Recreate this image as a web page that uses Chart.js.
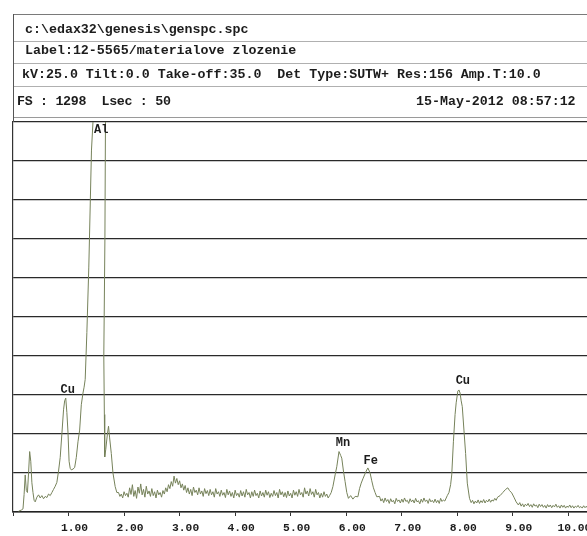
<!DOCTYPE html>
<html>
<head>
<meta charset="utf-8">
<script src="https://cdn.jsdelivr.net/npm/chart.js@4/dist/chart.umd.min.js"></script>
<style>
  html, body { margin:0; padding:0; background:#ffffff; width:587px; height:536px; overflow:hidden; }
  #wrap { position:absolute; left:0; top:0; width:640px; height:536px; }
  canvas { position:absolute; left:0; top:0; }
  .t { position:absolute; font-family:"Liberation Mono","DejaVu Sans Mono",monospace; font-weight:bold; font-size:13.3px; color:#1c1c1c; white-space:pre; line-height:14px; }
  .hl { position:absolute; left:13px; width:620px; height:0; }
</style>
</head>
<body>
<div id="wrap">
  <canvas id="c" width="640" height="536"></canvas>
  <div class="hl" style="top:14px;border-top:1px solid #7a7a7a;"></div>
  <div class="hl" style="top:41px;border-top:1px solid #b0b0b0;"></div>
  <div class="hl" style="top:63px;border-top:1px solid #b0b0b0;"></div>
  <div class="hl" style="top:86px;border-top:1px solid #b0b0b0;"></div>
  <div class="hl" style="top:117px;border-top:1px solid #9a9a9a;"></div>
  <div style="position:absolute;left:13px;top:14px;width:0;height:108px;border-left:1px solid #555;"></div>
  <div class="t" style="left:25px;top:23px;">c:\edax32\genesis\genspc.spc</div>
  <div class="t" style="left:25px;top:44px;">Label:12-5565/materialove zlozenie</div>
  <div class="t" style="left:22px;top:68px;">kV:25.0 Tilt:0.0 Take-off:35.0  Det Type:SUTW+ Res:156 Amp.T:10.0</div>
  <div class="t" style="left:17px;top:95px;letter-spacing:-0.3px;">FS : 1298  Lsec : 50</div>
  <div class="t" style="left:416px;top:95px;">15-May-2012 08:57:12</div>
</div>
<script>
// Energy (keV) and intensity (in full-scale divisions, 10 = FS 1298)
const energy = [
  0.10,0.15,0.18,0.20,0.22,0.24,0.26,0.28,0.30,0.32,0.34,0.36,0.38,0.40,0.43,0.46,0.49,0.52,0.55,0.58,
  0.61,0.64,0.67,0.70,0.73,0.76,0.79,0.82,0.85,0.88,0.91,0.93,0.95,0.97,0.99,1.01,1.03,1.05,1.08,1.11,
  1.14,1.17,1.20,1.23,1.26,1.28,1.30,1.33,1.365,1.413,1.44,1.48,1.52,1.56,1.60,1.64,1.665,1.655,1.635,1.645,
  1.651,1.67,1.70,1.72,1.74,1.77,1.80,1.84,1.87,
  1.900,1.925,1.950,1.975,2.000,2.025,2.050,2.075,
  2.100,2.125,2.150,2.175,2.200,2.225,2.250,2.275,
  2.300,2.325,2.350,2.375,2.400,2.425,2.450,2.475,
  2.500,2.525,2.550,2.575,2.600,2.625,2.650,2.675,
  2.700,2.725,2.750,2.775,2.800,2.825,2.850,2.875,
  2.900,2.925,2.950,2.975,3.000,3.025,3.050,3.075,
  3.100,3.125,3.150,3.175,3.200,3.225,3.250,3.275,
  3.300,3.325,3.350,3.375,3.400,3.425,3.450,3.475,
  3.500,3.525,3.550,3.575,3.600,3.625,3.650,3.675,
  3.700,3.725,3.750,3.775,3.800,3.825,3.850,3.875,
  3.900,3.925,3.950,3.975,4.000,4.025,4.050,4.075,
  4.100,4.125,4.150,4.175,4.200,4.225,4.250,4.275,
  4.300,4.325,4.350,4.375,4.400,4.425,4.450,4.475,
  4.500,4.525,4.550,4.575,4.600,4.625,4.650,4.675,
  4.700,4.725,4.750,4.775,4.800,4.825,4.850,4.875,
  4.900,4.925,4.950,4.975,5.000,5.025,5.050,5.075,
  5.100,5.125,5.150,5.175,5.200,5.225,5.250,5.275,
  5.300,5.325,5.350,5.375,5.400,5.425,5.450,5.475,
  5.500,5.525,5.550,5.575,5.600,5.625,5.650,5.675,
  5.70,5.73,5.76,5.80,
  5.83,5.87,5.90,5.92,5.95,5.98,6.01,6.04,6.08,6.12,6.16,6.21,6.24,6.27,6.30,6.33,6.36,6.39,6.43,6.46,
  6.49,6.52,6.55,
  6.600,6.625,6.650,6.675,6.700,6.725,6.750,6.775,
  6.800,6.825,6.850,6.875,6.900,6.925,6.950,6.975,
  7.000,7.025,7.050,7.075,7.100,7.125,7.150,7.175,
  7.200,7.225,7.250,7.275,7.300,7.325,7.350,7.375,
  7.400,7.425,7.450,7.475,7.500,7.525,7.550,7.575,
  7.600,7.625,7.650,7.675,7.700,7.725,7.750,7.775,
  7.82,7.85,7.88,7.90,7.93,7.96,7.98,8.01,8.03,8.05,8.07,8.09,
  8.12,8.15,8.18,8.22,
  8.250,8.275,8.300,8.325,8.350,8.375,8.400,8.425,
  8.450,8.475,8.500,8.525,8.550,8.575,8.600,8.625,
  8.650,8.675,8.700,8.725,
  8.77,8.82,8.87,8.91,8.94,8.98,9.02,9.06,
  9.100,9.125,9.150,9.175,9.200,9.225,9.250,9.275,
  9.300,9.325,9.350,9.375,9.400,9.425,9.450,9.475,
  9.500,9.525,9.550,9.575,9.600,9.625,9.650,9.675,
  9.700,9.725,9.750,9.775,9.800,9.825,9.850,9.875,
  9.900,9.925,9.950,9.975,10.000,10.025,10.050,10.075,
  10.100,10.125,10.150,10.175,10.200,10.225,10.250,10.275,
  10.300,10.325,10.350,10.375,10.400,10.425,10.450,10.475,
  10.50
];
const counts = [
  0.02,0.05,0.08,0.45,0.95,0.55,0.50,1.00,1.55,1.30,0.75,0.50,0.30,0.26,0.38,0.44,0.36,0.42,0.34,0.40,
  0.37,0.46,0.42,0.50,0.58,0.66,0.76,1.05,1.40,2.00,2.62,2.85,2.92,2.55,2.05,1.30,1.12,1.08,1.10,1.14,
  1.40,1.80,2.10,2.75,3.05,3.20,3.40,4.60,6.28,9.28,10.0,14.0,17.0,18.0,16.0,12.0,10.0,7.00,4.00,2.50,
  1.41,1.60,2.00,2.20,1.90,1.50,1.00,0.65,0.50,
  0.50,0.40,0.46,0.36,0.52,0.42,0.48,0.38,
  0.62,0.45,0.70,0.40,0.55,0.35,0.64,0.48,
  0.72,0.44,0.58,0.38,0.66,0.46,0.54,0.40,
  0.60,0.42,0.52,0.36,0.56,0.44,0.50,0.38,
  0.55,0.46,0.62,0.52,0.70,0.60,0.78,0.66,
  0.92,0.74,0.86,0.70,0.80,0.62,0.72,0.56,
  0.68,0.50,0.62,0.46,0.58,0.42,0.64,0.50,
  0.56,0.44,0.62,0.46,0.54,0.40,0.60,0.47,
  0.55,0.42,0.58,0.44,0.52,0.38,0.60,0.46,
  0.52,0.40,0.56,0.43,0.50,0.37,0.58,0.44,
  0.54,0.40,0.50,0.36,0.56,0.42,0.48,0.38,
  0.55,0.41,0.52,0.38,0.58,0.44,0.50,0.36,
  0.52,0.40,0.56,0.42,0.48,0.36,0.54,0.41,
  0.50,0.38,0.56,0.43,0.52,0.37,0.48,0.40,
  0.55,0.42,0.50,0.36,0.58,0.44,0.52,0.39,
  0.50,0.37,0.54,0.41,0.48,0.36,0.56,0.43,
  0.52,0.40,0.58,0.44,0.50,0.38,0.62,0.46,
  0.54,0.41,0.60,0.45,0.52,0.38,0.58,0.44,
  0.50,0.36,0.48,0.38,0.52,0.40,0.46,0.36,
  0.42,0.50,0.65,0.95,
  1.16,1.55,1.45,1.38,1.05,0.78,0.50,0.35,0.42,0.33,0.40,0.39,0.60,0.74,0.85,0.95,1.05,1.13,1.00,0.80,
  0.62,0.50,0.39,
  0.40,0.28,0.34,0.24,0.36,0.27,0.32,0.22,
  0.34,0.26,0.30,0.21,0.35,0.27,0.31,0.23,
  0.33,0.25,0.36,0.27,0.30,0.22,0.34,0.26,
  0.31,0.23,0.35,0.26,0.29,0.21,0.33,0.25,
  0.36,0.27,0.31,0.22,0.34,0.26,0.30,0.24,
  0.33,0.24,0.30,0.22,0.35,0.27,0.31,0.28,
  0.42,0.50,0.70,0.95,1.80,2.50,2.80,3.10,3.13,3.05,2.85,2.70,
  2.10,1.50,0.74,0.35,
  0.24,0.30,0.21,0.28,0.23,0.31,0.22,0.29,
  0.24,0.32,0.23,0.30,0.26,0.33,0.25,0.31,
  0.28,0.35,0.30,0.38,
  0.42,0.50,0.58,0.62,0.55,0.49,0.38,0.26,
  0.18,0.24,0.15,0.21,0.13,0.20,0.16,0.22,
  0.14,0.19,0.12,0.21,0.15,0.18,0.11,0.20,
  0.14,0.19,0.12,0.17,0.10,0.19,0.13,0.18,
  0.11,0.17,0.13,0.20,0.12,0.16,0.10,0.18,
  0.12,0.17,0.10,0.15,0.12,0.18,0.11,0.16,
  0.10,0.15,0.12,0.17,0.11,0.14,0.10,0.16,
  0.11,0.15,0.09,0.14,0.12,0.16,0.10,0.13,
  0.12
];
// Peak labels
const peakNames  = ["Al", "Cu", "Mn", "Fe", "Cu"];
const peakEnergy = [1.59, 0.984, 5.94, 6.44, 8.10];
const peakLevel  = [9.80, 3.12, 1.77, 1.31, 3.36];
// Axis
const xTickValues = [1,2,3,4,5,6,7,8,9,10];

const points = energy.map((e, i) => ({ x: e, y: counts[i] }));

const peakLabelPlugin = {
  id: 'peakLabels',
  afterDatasetsDraw(chart) {
    const ctx = chart.ctx;
    const xs = chart.scales.x, ys = chart.scales.y;
    ctx.save();
    ctx.font = 'bold 12px "Liberation Mono", monospace';
    ctx.fillStyle = '#1c1c1c';
    ctx.textAlign = 'center';
    ctx.textBaseline = 'middle';
    peakNames.forEach((n, i) => {
      ctx.fillText(n, xs.getPixelForValue(peakEnergy[i]), ys.getPixelForValue(peakLevel[i]));
    });
    ctx.restore();
  }
};

new Chart(document.getElementById('c'), {
  type: 'line',
  data: {
    datasets: [{
      data: points,
      borderColor: '#76825a',
      borderWidth: 1,
      pointRadius: 0,
      tension: 0,
      fill: false
    }]
  },
  options: {
    responsive: false,
    animation: false,
    devicePixelRatio: 1,
    layout: { padding: { top: 122, left: 13, right: 3, bottom: 0 } },
    plugins: { legend: { display: false }, tooltip: { enabled: false } },
    scales: {
      x: {
        type: 'linear',
        min: 0,
        max: 11.2,
        afterFit: (s) => { s.height = 24; },
        border: { display: true, color: '#222', width: 1.5 },
        grid: { drawOnChartArea: false, drawTicks: true, tickLength: 4, color: '#333', lineWidth: 1 },
        ticks: {
          stepSize: 1,
          autoSkip: false,
          maxRotation: 0,
          padding: 5,
          labelOffset: 6,
          color: '#1c1c1c',
          font: { family: '"Liberation Mono", monospace', weight: 'bold', size: 11.3 },
          callback: (v) => xTickValues.includes(v) ? v.toFixed(2) : ''
        }
      },
      y: {
        min: 0,
        max: 10,
        afterFit: (s) => { s.width = 0; },
        border: { display: true, color: '#333', width: 1.2 },
        grid: { color: '#2a2a2a', lineWidth: 1.2, drawTicks: false, tickLength: 0 },
        ticks: { display: false, stepSize: 1 }
      }
    }
  },
  plugins: [peakLabelPlugin]
});
</script>
</body>
</html>
